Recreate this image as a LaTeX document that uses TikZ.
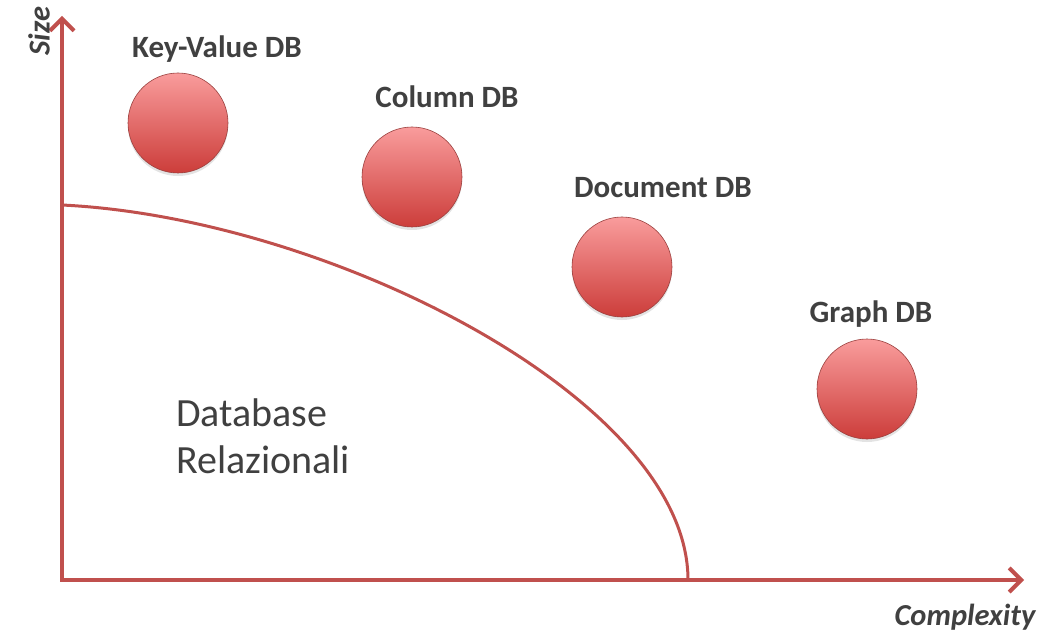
\documentclass[tikz,border=0pt]{standalone}
\usepackage{fontspec}
\setmainfont{Carlito}
\usetikzlibrary{arrows.meta,positioning,shadows}
\definecolor{axisred}{HTML}{C0504D}
\definecolor{balltop}{HTML}{F99C9C}
\definecolor{ballbot}{HTML}{CC3D3A}
\definecolor{txtgray}{HTML}{404040}

\begin{document}
\begin{tikzpicture}[x=1pt, y=-1pt,
      ball/.style={circle, minimum size=100pt, inner sep=0pt,
        draw=axisred!80!black, line width=.6pt,
        top color=balltop, bottom color=ballbot,
        drop shadow={shadow xshift=0pt, shadow yshift=-3pt, opacity=.22}},
      dblabel/.style={font=\fontsize{31}{35}\selectfont\bfseries,
        text=txtgray, inner sep=0pt, anchor=base},
      axislabel/.style={font=\fontsize{30.5}{34}\selectfont\bfseries\itshape,
        text=txtgray, inner sep=0pt},
      axis/.style={-{Straight Barb[length=12pt, width=24pt]},
        line width=4pt, draw=axisred, line cap=rect},
      border/.style={line width=3pt, draw=axisred}
    ]
      \useasboundingbox (0,0) rectangle (1039,631);
      % axes
      \coordinate (o) at (62,580);
      \coordinate (ytip) at (62,16);
      \coordinate (xtip) at (1024,580);
      \draw[axis] (o) -- (ytip);
      \draw[axis] (o) -- (xtip);
      \node[axislabel, rotate=90] (size) at (39,31) {Size};
      \node[axislabel, anchor=base] (cplx) at (965,625) {Complexity};
      % relational area
      \coordinate (rtop) at (62,205);
      \coordinate (rbot) at (688,580);
      \draw[border] (rtop) .. controls (330,218) and (688,400) .. (rbot);
      \node[font=\fontsize{40}{47}\selectfont, text=txtgray, align=left,
        inner sep=0pt, anchor=north west] (rel) at (176,399) {Database\\Relazionali};
      % nosql families
      \node[ball] (kv) at (178,123) {};
      \node[ball] (col) at (412,177) {};
      \node[ball] (doc) at (622,267) {};
      \node[ball] (graph) at (867,389) {};
      \node[dblabel] (kvl) at (217,58) {Key-Value DB};
      \node[dblabel] (coll) at (447,108) {Column DB};
      \node[dblabel] (docl) at (663,198) {Document DB};
      \node[dblabel] (graphl) at (871,322) {Graph DB};
    \end{tikzpicture}
\end{document}
